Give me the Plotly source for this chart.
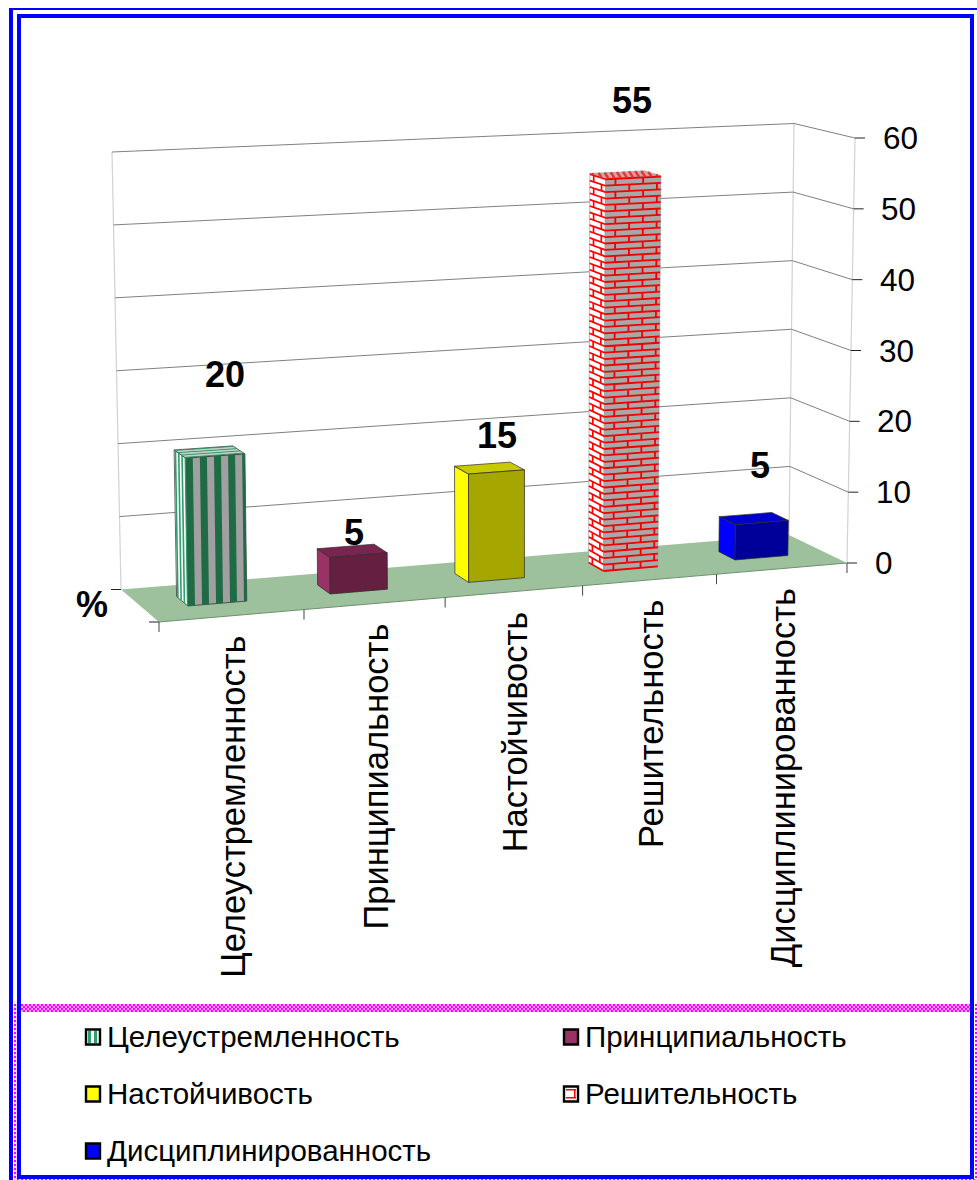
import plotly.graph_objects as go

# ---- data ----
CATEGORIES = ["Целеустремленность", "Принципиальность", "Настойчивость", "Решительность", "Дисциплинированность"]
VALUES = [20, 5, 15, 55, 5]
Y_TICKS = [0, 10, 20, 30, 40, 50, 60]
LABEL_LIFT = [56, -3, 11, 53, 31]          # px the data labels float above their bars
LABEL_SHIFT = [17, 3, 9, 8, 7]             # px sideways
FACE_COLORS = [
    ("#a0a0a0", "#ffffff", "#b9d4c6"),
    ("#652041", "#993366", "#7a2450"),
    ("#a6a600", "#ffff00", "#c9c900"),
    ("#a8a8a8", "#ffffff", "#d9a0a0"),
    ("#000099", "#0000ff", "#0000cc"),
]
FONT = "Liberation Sans"
YMAX = 60.0

# ---- projection of the chart's box onto the page ----
CORNERS = {  # (depth, top)  back=0 front=1
    ("L", 0, 0): (121, 589.5), ("R", 0, 0): (789, 535),
    ("L", 1, 0): (159, 622), ("R", 1, 0): (847, 563),
    ("L", 0, 1): (112, 152), ("R", 0, 1): (794, 123.5),
    ("L", 1, 1): (152, 172), ("R", 1, 1): (855, 138),
}
PERSP = 0.068


def P(u, d, v):
    t = u * (1 + PERSP) / (1 + PERSP * u)
    w = v / YMAX
    out = []
    for i in (0, 1):
        a = 0.0
        for side, ws in (("L", 1 - t), ("R", t)):
            for dd, wd in ((0, 1 - d), (1, d)):
                for tt, wt in ((0, 1 - w), (1, w)):
                    a += CORNERS[(side, dd, tt)][i] * ws * wd * wt
        out.append(a)
    return out


fig = go.Figure()


def poly(pts, fill, line=None, width=0.8, name=None):
    xs = [p[0] for p in pts] + [pts[0][0]]
    ys = [p[1] for p in pts] + [pts[0][1]]
    fig.add_trace(go.Scatter(x=xs, y=ys, mode="lines", fill="toself", fillcolor=fill, name=name,
                             line=dict(color=line or fill, width=width if line else 0),
                             hoverinfo="skip", showlegend=False))


def lines(segs, color, width=1.0):
    xs, ys = [], []
    for seg in segs:
        for p in seg:
            xs.append(p[0]); ys.append(p[1])
        xs.append(None); ys.append(None)
    fig.add_trace(go.Scatter(x=xs, y=ys, mode="lines", line=dict(color=color, width=width),
                             hoverinfo="skip", showlegend=False))


# floor
poly([P(0, 0, 0), P(1, 0, 0), P(1, 1, 0), P(0, 1, 0)], "#9cc19c")
lines([[P(0, 1, 0), P(1, 1, 0)]], "#6f8f6f", 1)

# walls: edges and grid
lines([[P(0, 0, 0), P(0, 0, YMAX)], [P(1, 0, 0), P(1, 0, YMAX)], [P(1, 1, 0), P(1, 1, YMAX)]], "#d2d2d2", 1.2)
lines([[P(0, 0, v), P(1, 0, v)] for v in Y_TICKS[1:]] +
      [[P(1, 0, v), P(1, 1, v)] for v in Y_TICKS[1:]], "#808080", 1)

# ticks
lines([[P(1, 1, v), [P(1, 1, v)[0] + 10, P(1, 1, v)[1]]] for v in Y_TICKS], "#222222", 1)
lines([[P(i / 5, 1, 0), [P(i / 5, 1, 0)[0], P(i / 5, 1, 0)[1] + 10]] for i in range(6)], "#444444", 1)
lines([[P(0, d, 0), [P(0, d, 0)[0] - 10, P(0, d, 0)[1]]] for d in (0, 1)], "#222222", 1)

# bars
HALF = 0.041
MID = 0.001
D0, D1 = 0.33, 0.62
for i, (cat, val, cols) in enumerate(zip(CATEGORIES, VALUES, FACE_COLORS)):
    u0 = (i + 0.5) / 5 - HALF + MID
    u1 = (i + 0.5) / 5 + HALF + MID
    front = [P(u0, D1, 0), P(u1, D1, 0), P(u1, D1, val), P(u0, D1, val)]
    left = [P(u0, D0, 0), P(u0, D1, 0), P(u0, D1, val), P(u0, D0, val)]
    top = [P(u0, D0, val), P(u1, D0, val), P(u1, D1, val), P(u0, D1, val)]
    edge = "#9a9a9a" if i == 3 else "#2a2a2a"
    poly(left, cols[1], edge, 0.7, cat)
    poly(top, cols[2], edge, 0.7, cat)
    poly(front, cols[0], edge, 0.7, cat)

    if i == 0:  # striped texture
        n = 4.2
        du = (u1 - u0) / n
        a = u0
        while a < u1 - 1e-6:
            b = min(a + du * 0.5, u1)
            poly([P(a, D1, 0), P(b, D1, 0), P(b, D1, val), P(a, D1, val)], "#1f6b45")
            a += du
        dd = (D1 - D0) / 3.5
        a = D0 + dd * 0.15
        while a < D1:
            b = min(a + dd * 0.5, D1)
            poly([P(u0, a, 0), P(u0, b, 0), P(u0, b, val), P(u0, a, val)], "#2f9e6e")
            a += dd
        a = D0
        while a < D1:
            b = min(a + dd * 0.35, D1)
            poly([P(u0, a, val), P(u1, a, val), P(u1, b, val), P(u0, b, val)], "#2f8a60")
            a += dd
    if i == 3:  # brick texture
        course = 0.9
        rows = int(val / course)
        segs_f, segs_l = [], []
        for r in range(rows + 1):
            v = r * course
            segs_f.append([P(u0, D1, v), P(u1, D1, v)])
            segs_l.append([P(u0, D0, v), P(u0, D1, v)])
            if r < rows:
                v2 = v + course
                for frac in ((0.18, 0.68) if r % 2 == 0 else (0.43, 0.93)):
                    uu = u0 + (u1 - u0) * frac
                    segs_f.append([P(uu, D1, v), P(uu, D1, v2)])
                dd_frac = 0.25 if r % 2 == 0 else 0.75
                dv = D0 + (D1 - D0) * dd_frac
                segs_l.append([P(u0, dv, v), P(u0, dv, v2)])
        lines(segs_f, "#f00000", 1.8)
        lines(segs_l, "#ff0000", 1.7)
        dx, dy = [], []
        for a in range(9):
            for b in range(4):
                p = P(u0 + (u1 - u0) * (a + 0.5 * (b % 2) + 0.2) / 9, D0 + (D1 - D0) * (b + 0.5) / 4, val)
                dx.append(p[0]); dy.append(p[1])
        fig.add_trace(go.Scatter(x=dx, y=dy, mode="markers", marker=dict(size=2.5, color="#e83030"),
                                 hoverinfo="skip", showlegend=False))

ann = []


def text(x, y, s, size, bold=False, **kw):
    ann.append(dict(x=x, y=y, xref="x", yref="y", text=f"<b>{s}</b>" if bold else s, showarrow=False,
                    font=dict(family=FONT, size=size, color="#000000"), borderpad=0, **kw))


# value labels: bold, floated above the bar tops
for i, val in enumerate(VALUES):
    p = P((i + 0.5) / 5, 0.465, val)
    text(p[0], p[1], str(val), 36, True, xanchor="center", yanchor="bottom",
         xshift=LABEL_SHIFT[i], yshift=LABEL_LIFT[i])

# y tick labels
for v in Y_TICKS:
    p = P(1, 1, v)
    text(p[0], p[1], str(v), 31.5, xanchor="left", yanchor="middle", xshift=26.5)

# category labels
for i, cat in enumerate(CATEGORIES):
    p = P((i + 0.5) / 5, 1, 0)
    text(p[0], p[1], cat, 34.5, textangle=-90, xanchor="center", yanchor="top", yshift=-19, xshift=1)

text(92, 604, "%", 36, True, xanchor="center", yanchor="middle")

# legend
LEG_X = [85, 563]
LEG_Y = [1037, 1094, 1151]
LEG_SLOT = [(0, 0), (1, 0), (0, 1), (1, 1), (0, 2)]
shapes = []


def rect(x0, y0, x1, y1, fill, line=None, width=0, layer="above"):
    shapes.append(dict(type="rect", xref="x", yref="y", x0=x0, y0=y0, x1=x1, y1=y1, fillcolor=fill, layer=layer,
                       line=dict(color=line or fill, width=width)))


SWATCH = ["#ffffff", "#993366", "#ffff00", "#ffffff", "#0000ff"]
for cat, (cx, cy), col in zip(CATEGORIES, LEG_SLOT, SWATCH):
    x, y = LEG_X[cx], LEG_Y[cy]
    rect(x + 1, y - 7.5, x + 15, y + 7.5, col, "#000000", 2.4)
    if cat == CATEGORIES[0]:
        rect(x + 3, y - 6, x + 6, y + 6, "#2f9e6e")
        rect(x + 9, y - 6, x + 12, y + 6, "#2f9e6e")
    if cat == CATEGORIES[3]:
        rect(x + 3, y - 5, x + 13, y - 3.5, "#ff0000")
        rect(x + 3, y + 3, x + 13, y + 4.5, "#ff0000")
        rect(x + 11, y - 4, x + 12.5, y + 4, "#ff0000")
    text(x + 20.5, y - 1, cat, 29.5, xanchor="left", yanchor="middle")

# frame
BLUE = "#0000ff"
MAG = "#ff00ff"
rect(9, 8, 13, 1180, BLUE)
rect(9, 8, 977, 10, BLUE)
rect(17, 14, 21, 1179, BLUE)
rect(17, 14, 974, 18, BLUE)
rect(970, 14, 974, 1179, BLUE)
rect(17, 1175, 974, 1179, BLUE)
rect(21, 1004, 970, 1012, "#ffa8ff")
for r in range(4):
    start = 21 + (2 if r % 2 else 0)
    shapes.append(dict(type="line", xref="x", yref="y", x0=start, x1=970, y0=1005 + 2 * r, y1=1005 + 2 * r,
                       line=dict(color=MAG, width=2, dash="2px,2px")))
for x0 in (14, 975):
    rect(x0, 1004, x0 + 2 if x0 == 975 else 17, 1180, "#ffd0ff")
    shapes.append(dict(type="line", xref="x", yref="y", x0=x0 + 1, x1=x0 + 1, y0=1004, y1=1180,
                       line=dict(color=MAG, width=2, dash="2px,2px")))
shapes.append(dict(type="line", xref="x", yref="y", x0=17, x1=977, y0=1179.5, y1=1179.5,
                   line=dict(color=MAG, width=1, dash="2px,2px")))

fig.update_layout(
    width=977, height=1180, margin=dict(l=0, r=0, t=0, b=0), paper_bgcolor="#ffffff", plot_bgcolor="#ffffff",
    showlegend=False, annotations=ann, shapes=shapes,
    xaxis=dict(range=[0, 977], visible=False, fixedrange=True),
    yaxis=dict(range=[1180, 0], visible=False, fixedrange=True),
)
fig.write_html("out.html", config={"displayModeBar": False},
               post_script="document.body.style.margin='0';document.documentElement.style.overflow='hidden';")
